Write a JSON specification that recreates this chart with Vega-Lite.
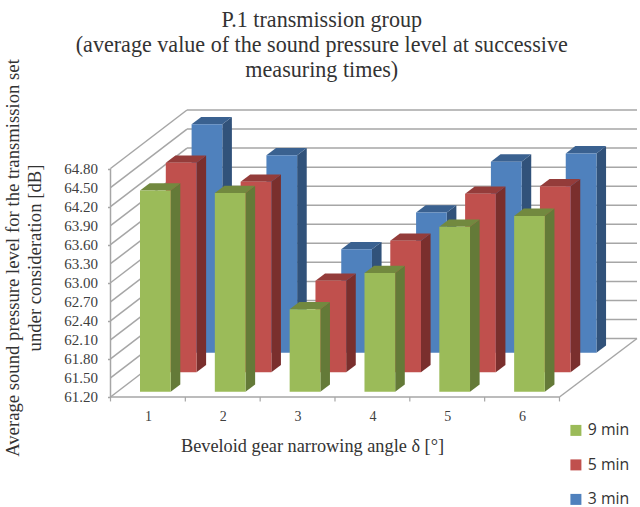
{"$schema":"https://vega.github.io/schema/vega-lite/v6.json","width":526.5,"height":287,"autosize":{"type":"none"},"padding":{"left":110.5,"top":110,"right":3,"bottom":110},"background":"white","view":{"stroke":null},
"title":{"text":["P.1 transmission group","(average value of the sound pressure level at successive","measuring times)"],"font":"Liberation Serif","fontSize":22.1,"fontWeight":"normal","color":"#333333","lineHeight":25,"anchor":"middle","dx":-52,"offset":-23},
"datasets":{"bars":[
{"angle":1,"series":"9 min","value":64.37},{"angle":2,"series":"9 min","value":64.33},{"angle":3,"series":"9 min","value":62.5},{"angle":4,"series":"9 min","value":63.07},{"angle":5,"series":"9 min","value":63.8},{"angle":6,"series":"9 min","value":63.97},
{"angle":1,"series":"5 min","value":64.5},{"angle":2,"series":"5 min","value":64.2},{"angle":3,"series":"5 min","value":62.64},{"angle":4,"series":"5 min","value":63.27},{"angle":5,"series":"5 min","value":64.01},{"angle":6,"series":"5 min","value":64.13},
{"angle":1,"series":"3 min","value":64.8},{"angle":2,"series":"3 min","value":64.31},{"angle":3,"series":"3 min","value":62.83},{"angle":4,"series":"3 min","value":63.41},{"angle":5,"series":"3 min","value":64.21},{"angle":6,"series":"3 min","value":64.34}],
"levels":[{"level":61.2},{"level":61.5},{"level":61.8},{"level":62.1},{"level":62.4},{"level":62.7},{"level":63.0},{"level":63.3},{"level":63.6},{"level":63.9},{"level":64.2},{"level":64.5},{"level":64.8}],
"bounds":[{"bound":0.5},{"bound":1.5},{"bound":2.5},{"bound":3.5},{"bound":4.5},{"bound":5.5},{"bound":6.5}]},
"layer":[
{"data":{"name":"levels"},"transform":[{"calculate":"datum.level+0.9217","as":"back"}],"layer":[
{"mark":{"type":"rule","color":"#a6a6a6","strokeWidth":1.5},"encoding":{
"x":{"datum":0.5,"type":"quantitative","scale":{"domain":[0.5,7.536],"zero":false,"nice":false},"axis":{"values":[1,2,3,4,5,6],"title":"Beveloid gear narrowing angle δ [°]","domain":false,"ticks":false,"grid":false,"labelFont":"Liberation Serif","labelFontSize":14,"labelColor":"#404040","labelPadding":12,"labelFlush":false,"labelOverlap":false,"titleFont":"Liberation Serif","titleFontSize":18.3,"titleFontWeight":"normal","titleColor":"#333333","titleX":201.5,"titleY":54,"titleAnchor":"middle","titleBaseline":"alphabetic","format":"d"}},
"x2":{"datum":1.5223},
"y":{"field":"level","type":"quantitative","scale":{"domain":[61.2,65.722],"zero":false,"nice":false},"axis":{"values":[61.2,61.5,61.8,62.1,62.4,62.7,63.0,63.3,63.6,63.9,64.2,64.5,64.8],"labels":false,"title":["Average sound pressure level for the transmission set","under consideration [dB]"],"domain":false,"ticks":true,"tickSize":3,"tickColor":"#a6a6a6","tickWidth":1.5,"grid":false,"titleFont":"Liberation Serif","titleFontSize":18.7,"titleFontWeight":"normal","titleColor":"#333333","titleLineHeight":22,"titleX":-88,"titleY":147.5,"titleAnchor":"middle","titleAngle":270}},
"y2":{"field":"back"}}},
{"mark":{"type":"rule","color":"#a6a6a6","strokeWidth":1.5},"encoding":{"x":{"datum":1.5223,"type":"quantitative","scale":{"domain":[0.5,7.536],"zero":false,"nice":false}},"x2":{"datum":7.536},"y":{"field":"back","type":"quantitative","scale":{"domain":[61.2,65.722],"zero":false,"nice":false}}}},
{"mark":{"type":"text","font":"Liberation Serif","fontSize":15,"color":"#404040","align":"right","baseline":"middle","dx":-12.5},"encoding":{"x":{"datum":0.5,"type":"quantitative","scale":{"domain":[0.5,7.536],"zero":false,"nice":false}},"y":{"field":"level","type":"quantitative","scale":{"domain":[61.2,65.722],"zero":false,"nice":false}},"text":{"field":"level","type":"quantitative","format":".2f"}}},
{"transform":[{"filter":"datum.level==61.2"}],"layer":[
{"mark":{"type":"rule","color":"#a6a6a6","strokeWidth":1.5},"encoding":{"x":{"datum":0.5,"type":"quantitative","scale":{"domain":[0.5,7.536],"zero":false,"nice":false}},"y":{"field":"level","type":"quantitative","scale":{"domain":[61.2,65.722],"zero":false,"nice":false}},"y2":{"datum":64.8}}},
{"mark":{"type":"rule","color":"#a6a6a6","strokeWidth":1.5},"encoding":{"x":{"datum":0.5,"type":"quantitative","scale":{"domain":[0.5,7.536],"zero":false,"nice":false}},"x2":{"datum":6.5},"y":{"field":"level","type":"quantitative","scale":{"domain":[61.2,65.722],"zero":false,"nice":false}}}},
{"mark":{"type":"rule","color":"#a6a6a6","strokeWidth":1.5},"encoding":{"x":{"datum":6.5,"type":"quantitative","scale":{"domain":[0.5,7.536],"zero":false,"nice":false}},"x2":{"datum":7.536},"y":{"field":"level","type":"quantitative","scale":{"domain":[61.2,65.722],"zero":false,"nice":false}},"y2":{"field":"back"}}}
]}]},
{"data":{"name":"bounds"},"mark":{"type":"rule","color":"#a6a6a6","strokeWidth":1.2},"encoding":{"x":{"field":"bound","type":"quantitative","scale":{"domain":[0.5,7.536],"zero":false,"nice":false}},"y":{"datum":61.2,"type":"quantitative","scale":{"domain":[61.2,65.722],"zero":false,"nice":false}},"y2":{"datum":61.13}}},
{"data":{"name":"bars"},"transform":[
{"calculate":"datum.series=='9 min'?0:datum.series=='5 min'?1:2","as":"depth"},
{"calculate":"datum.angle-0.1058+datum.depth*0.3448","as":"xl"},
{"calculate":"datum.xl+0.4103","as":"xr"},
{"calculate":"61.2835+datum.depth*0.3072","as":"base"},
{"calculate":"datum.value+0.0835+datum.depth*0.3072","as":"top"}],
"layer":[
{"transform":[{"filter":"datum.depth==2"},{"calculate":"[0,1]","as":"k"},{"flatten":["k"]},{"calculate":"datum.xr+datum.k*0.1283","as":"px"},{"calculate":"datum.base+datum.k*0.115","as":"lo"},{"calculate":"datum.top+datum.k*0.115","as":"hi"}],"mark":{"type":"area","color":"#31527a"},"encoding":{"x":{"field":"px","type":"quantitative","scale":{"domain":[0.5,7.536],"zero":false,"nice":false}},"y":{"field":"hi","type":"quantitative","stack":null,"scale":{"domain":[61.2,65.722],"zero":false,"nice":false}},"y2":{"field":"lo"},"detail":{"field":"angle"}}},
{"transform":[{"filter":"datum.depth==2"},{"calculate":"[0,1,2,3]","as":"k"},{"flatten":["k"]},{"calculate":"datum.k==0?datum.xl:datum.k==1?datum.xl+0.1283:datum.k==2?datum.xr:datum.xr+0.1283","as":"px"},{"calculate":"datum.k==3?datum.top+0.115:datum.top","as":"lo"},{"calculate":"datum.k==0?datum.top:datum.top+0.115","as":"hi"}],"mark":{"type":"area","color":"#3a6190"},"encoding":{"x":{"field":"px","type":"quantitative","scale":{"domain":[0.5,7.536],"zero":false,"nice":false}},"y":{"field":"hi","type":"quantitative","stack":null,"scale":{"domain":[61.2,65.722],"zero":false,"nice":false}},"y2":{"field":"lo"},"detail":{"field":"angle"}}},
{"transform":[{"filter":"datum.depth==2"}],"mark":{"type":"rect"},"encoding":{"x":{"field":"xl","type":"quantitative","scale":{"domain":[0.5,7.536],"zero":false,"nice":false}},"x2":{"field":"xr"},"y":{"field":"top","type":"quantitative","scale":{"domain":[61.2,65.722],"zero":false,"nice":false}},"y2":{"field":"base"},"color":{"field":"series","type":"nominal","scale":{"domain":["9 min","5 min","3 min"],"range":["#9bbb59","#c0504d","#4f81bd"]},"legend":{"title":null,"orient":"none","legendX":457.5,"legendY":312.5,"symbolType":"square","symbolSize":121,"symbolStrokeWidth":0,"labelFont":"Open Sans","labelFontSize":15.8,"labelColor":"#333333","labelOffset":4,"rowPadding":17.5}}}},
{"transform":[{"filter":"datum.depth==1"},{"calculate":"[0,1]","as":"k"},{"flatten":["k"]},{"calculate":"datum.xr+datum.k*0.1283","as":"px"},{"calculate":"datum.base+datum.k*0.115","as":"lo"},{"calculate":"datum.top+datum.k*0.115","as":"hi"}],"mark":{"type":"area","color":"#7a2f2d"},"encoding":{"x":{"field":"px","type":"quantitative","scale":{"domain":[0.5,7.536],"zero":false,"nice":false}},"y":{"field":"hi","type":"quantitative","stack":null,"scale":{"domain":[61.2,65.722],"zero":false,"nice":false}},"y2":{"field":"lo"},"detail":{"field":"angle"}}},
{"transform":[{"filter":"datum.depth==1"},{"calculate":"[0,1,2,3]","as":"k"},{"flatten":["k"]},{"calculate":"datum.k==0?datum.xl:datum.k==1?datum.xl+0.1283:datum.k==2?datum.xr:datum.xr+0.1283","as":"px"},{"calculate":"datum.k==3?datum.top+0.115:datum.top","as":"lo"},{"calculate":"datum.k==0?datum.top:datum.top+0.115","as":"hi"}],"mark":{"type":"area","color":"#943c3a"},"encoding":{"x":{"field":"px","type":"quantitative","scale":{"domain":[0.5,7.536],"zero":false,"nice":false}},"y":{"field":"hi","type":"quantitative","stack":null,"scale":{"domain":[61.2,65.722],"zero":false,"nice":false}},"y2":{"field":"lo"},"detail":{"field":"angle"}}},
{"transform":[{"filter":"datum.depth==1"}],"mark":{"type":"rect"},"encoding":{"x":{"field":"xl","type":"quantitative","scale":{"domain":[0.5,7.536],"zero":false,"nice":false}},"x2":{"field":"xr"},"y":{"field":"top","type":"quantitative","scale":{"domain":[61.2,65.722],"zero":false,"nice":false}},"y2":{"field":"base"},"color":{"field":"series","type":"nominal","scale":{"domain":["9 min","5 min","3 min"],"range":["#9bbb59","#c0504d","#4f81bd"]}}}},
{"transform":[{"filter":"datum.depth==0"},{"calculate":"[0,1]","as":"k"},{"flatten":["k"]},{"calculate":"datum.xr+datum.k*0.1283","as":"px"},{"calculate":"datum.base+datum.k*0.115","as":"lo"},{"calculate":"datum.top+datum.k*0.115","as":"hi"}],"mark":{"type":"area","color":"#647a38"},"encoding":{"x":{"field":"px","type":"quantitative","scale":{"domain":[0.5,7.536],"zero":false,"nice":false}},"y":{"field":"hi","type":"quantitative","stack":null,"scale":{"domain":[61.2,65.722],"zero":false,"nice":false}},"y2":{"field":"lo"},"detail":{"field":"angle"}}},
{"transform":[{"filter":"datum.depth==0"},{"calculate":"[0,1,2,3]","as":"k"},{"flatten":["k"]},{"calculate":"datum.k==0?datum.xl:datum.k==1?datum.xl+0.1283:datum.k==2?datum.xr:datum.xr+0.1283","as":"px"},{"calculate":"datum.k==3?datum.top+0.115:datum.top","as":"lo"},{"calculate":"datum.k==0?datum.top:datum.top+0.115","as":"hi"}],"mark":{"type":"area","color":"#72893f"},"encoding":{"x":{"field":"px","type":"quantitative","scale":{"domain":[0.5,7.536],"zero":false,"nice":false}},"y":{"field":"hi","type":"quantitative","stack":null,"scale":{"domain":[61.2,65.722],"zero":false,"nice":false}},"y2":{"field":"lo"},"detail":{"field":"angle"}}},
{"transform":[{"filter":"datum.depth==0"}],"mark":{"type":"rect"},"encoding":{"x":{"field":"xl","type":"quantitative","scale":{"domain":[0.5,7.536],"zero":false,"nice":false}},"x2":{"field":"xr"},"y":{"field":"top","type":"quantitative","scale":{"domain":[61.2,65.722],"zero":false,"nice":false}},"y2":{"field":"base"},"color":{"field":"series","type":"nominal","scale":{"domain":["9 min","5 min","3 min"],"range":["#9bbb59","#c0504d","#4f81bd"]}}}}
]}
]}
